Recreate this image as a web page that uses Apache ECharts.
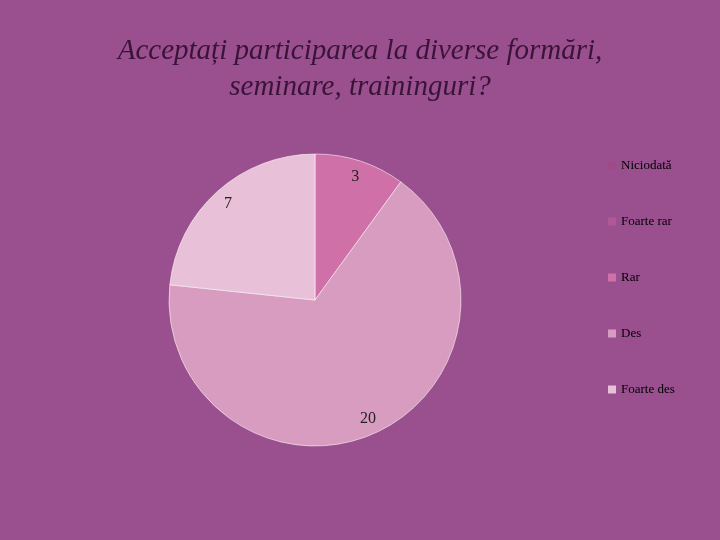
<!DOCTYPE html>
<html><head><meta charset="utf-8">
<script src="https://cdn.jsdelivr.net/npm/echarts@6/dist/echarts.min.js"></script>
<style>html,body{margin:0;padding:0;background:#9a4f8e;}#c{width:720px;height:540px;}</style>
</head><body><div id="c"></div>
<script>
const categories = ['Niciodată','Foarte rar','Rar','Des','Foarte des'];
const values = [0, 0, 3, 20, 7];
const colors = ['#a04a8a','#b0589a','#d070a8','#d89cc0','#e8c0d8'];
const data = categories.map((n,i)=>({name:n,value:values[i],itemStyle:{color:colors[i]}}));
const chart = echarts.init(document.getElementById('c'));
chart.setOption({
  backgroundColor:'#9a4f8e',
  title:{text:'Acceptați participarea la diverse formări,\nseminare, traininguri?',left:'center',top:28,
    textStyle:{fontFamily:'Liberation Serif',fontStyle:'italic',fontWeight:'normal',fontSize:29,lineHeight:36,color:'#3a1438',
    textShadowColor:'rgba(255,255,255,0.5)',textShadowOffsetX:1,textShadowOffsetY:1,textShadowBlur:0}},
  legend:{orient:'vertical',left:603,top:154,itemGap:43,itemWidth:8,itemHeight:8,icon:'rect',
    itemStyle:{borderWidth:0},
    textStyle:{fontFamily:'Liberation Serif',fontSize:13,color:'#000'},data:categories},
  series:[
    {type:'pie',center:[315,300],radius:[0,146],startAngle:90,clockwise:true,data:data,
     label:{show:false},labelLine:{show:false},itemStyle:{borderColor:'rgba(255,255,255,0.7)',borderWidth:0.8},emphasis:{disabled:true}},
    {type:'pie',center:[315,300],radius:[108,146],startAngle:90,clockwise:true,silent:true,legendHoverLink:false,
     data:data.map(d=>({name:d.name,value:d.value,itemStyle:{color:'transparent'}})),
     label:{position:'inside',formatter:p=>p.value?String(p.value):'',fontFamily:'Liberation Serif',fontSize:16,color:'#222'},
     labelLine:{show:false},emphasis:{disabled:true}}
  ]
});
</script></body></html>
